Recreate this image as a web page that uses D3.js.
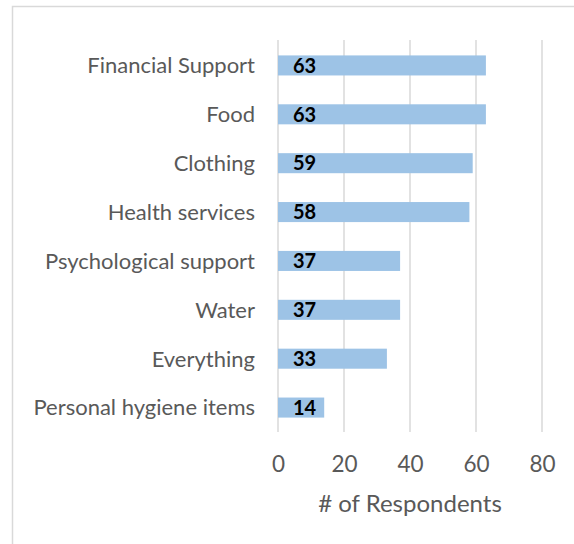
<!DOCTYPE html>
<html>
<head>
<meta charset="utf-8">
<script src="https://cdn.jsdelivr.net/npm/d3@7"></script>
<style>
  body { margin: 0; background: #fff; }
  svg { display: block; font-family: Lato, "Open Sans", sans-serif; }
</style>
</head>
<body>
<svg id="chart"></svg>
<script>
// 类别与数值
const categories = ['Financial Support', 'Food', 'Clothing', 'Health services',
  'Psychological support', 'Water', 'Everything', 'Personal hygiene items'];
const respondents = [63, 63, 59, 58, 37, 37, 33, 14];
const xTicks = [0, 20, 40, 60, 80];
const xTitle = '# of Respondents';

const width = 574, height = 544;
const margin = { top: 41, right: 32, bottom: 112, left: 278 };

const svg = d3.select('#chart').attr('width', width).attr('height', height);

// 外框（右侧和底部超出画布）
svg.append('rect')
  .attr('x', 12.5).attr('y', 6.5)
  .attr('width', width + 20).attr('height', height + 20)
  .attr('fill', 'none').attr('stroke', '#d9d9d9').attr('stroke-width', 1.5);

const x = d3.scaleLinear().domain([0, 80]).range([margin.left, width - margin.right]);
const y = d3.scaleBand().domain(categories)
  .range([margin.top, height - margin.bottom]).paddingInner(0.59).paddingOuter(0.295);

// 网格线
svg.append('g').selectAll('line').data(xTicks).join('line')
  .attr('x1', d => x(d)).attr('x2', d => x(d))
  .attr('y1', 40).attr('y2', 432)
  .attr('stroke', '#d9d9d9').attr('stroke-width', 1.5);

// 柱
svg.append('g').selectAll('rect').data(respondents).join('rect')
  .attr('x', x(0))
  .attr('y', (d, i) => y(categories[i]))
  .attr('width', d => x(d) - x(0))
  .attr('height', y.bandwidth())
  .attr('fill', '#9dc3e6');

// 数值标签
svg.append('g').selectAll('text').data(respondents).join('text')
  .attr('x', x(0) + 15)
  .attr('y', (d, i) => y(categories[i]) + y.bandwidth() / 2)
  .attr('dy', '0.36em')
  .attr('font-size', 20).attr('font-weight', 'bold').attr('fill', '#000')
  .text(d => d);

// 类别标签
svg.append('g').selectAll('text').data(categories).join('text')
  .attr('x', x(0) - 23)
  .attr('y', d => y(d) + y.bandwidth() / 2)
  .attr('dy', '0.36em')
  .attr('text-anchor', 'end')
  .attr('font-size', 22).attr('fill', '#595959')
  .text(d => d);

// X 轴
const xAxis = svg.append('g')
  .attr('transform', `translate(0,${height - margin.bottom})`)
  .call(d3.axisBottom(x).tickValues(xTicks).tickSize(0).tickPadding(24));
xAxis.select('.domain').remove();
xAxis.selectAll('text').attr('font-size', 22.5).attr('fill', '#595959')
  .attr('font-family', 'Lato, "Open Sans", sans-serif');

// X 轴标题
svg.append('text')
  .attr('x', (x(0) + x(80)) / 2)
  .attr('y', 503).attr('dy', '0.36em')
  .attr('text-anchor', 'middle')
  .attr('font-size', 24).attr('fill', '#595959')
  .text(xTitle);
</script>
</body>
</html>
